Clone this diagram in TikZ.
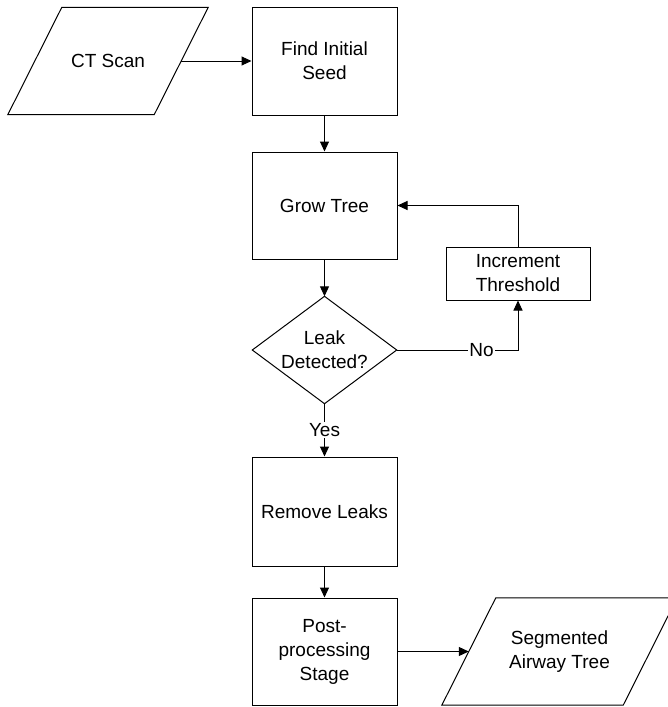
\documentclass[tikz,border=0pt]{standalone}
\usepackage{fontspec}
\setmainfont{Liberation Sans}
\usetikzlibrary{arrows.meta}
\begin{document}
\begin{tikzpicture}[x=1pt,y=-1pt,
  every node/.style={font=\fontsize{19}{24}\selectfont, align=center, inner sep=0pt},
  proc/.style={draw, line width=1pt, minimum width=145pt, minimum height=108pt},
  ghost/.style={minimum width=#1, minimum height=107pt},
  shapeline/.style={line width=1pt, line join=miter},
  conn/.style={line width=1pt, -{Triangle[length=10pt,width=9pt]}},
  lbl/.style={fill=white, inner sep=1pt}
]
\clip (0,0) rectangle (668,707);
\fill[white] (0,0) rectangle (668,707);

% input parallelogram
\node[ghost=146pt] (ct) at (108,61) {CT Scan};
\draw[shapeline] ([xshift=27pt]ct.north west) -- ([xshift=27pt]ct.north east)
  -- ([xshift=-27pt]ct.south east) -- ([xshift=-27pt]ct.south west) -- cycle;

\node[proc] (find) at (324.5,61) {Find Initial\\Seed};
\node[proc, minimum height=107pt] (grow) at (324.5,205.5) {Grow Tree};
\node[proc, minimum width=144pt, minimum height=53pt] (inc) at (518,273.5) {Increment\\Threshold};

% decision diamond
\node[ghost=144pt] (leak) at (324.5,350) {Leak\\Detected?};
\draw[shapeline] (leak.north) -- (leak.east) -- (leak.south) -- (leak.west) -- cycle;

\node[proc, minimum height=109pt] (remove) at (324.5,511.5) {Remove Leaks};
\node[proc, minimum height=107pt] (post) at (324.5,651.5) {Post-\\processing\\Stage};

% output parallelogram
\node[ghost=181pt] (seg) at (559.5,651.5) {Segmented\\Airway Tree};
\draw[shapeline] ([xshift=27pt]seg.north west) -- ([xshift=27pt]seg.north east)
  -- ([xshift=-27pt]seg.south east) -- ([xshift=-27pt]seg.south west) -- cycle;

% connectors
\draw[conn] (ct.east) -- (find.west);
\draw[conn] (find.south) -- (grow.north);
\draw[conn] (grow.south) -- (leak.north);
\draw[conn] (leak.south) -- node[lbl]{Yes} (remove.north);
\draw[conn] (leak.east) -- node[lbl, pos=0.7]{No} (leak.east -| inc.south) -- (inc.south);
\draw[conn] (inc.north) |- (grow.east);
\draw[conn] (remove.south) -- (post.north);
\draw[conn] (post.east) -- (seg.west);
\end{tikzpicture}
\end{document}
